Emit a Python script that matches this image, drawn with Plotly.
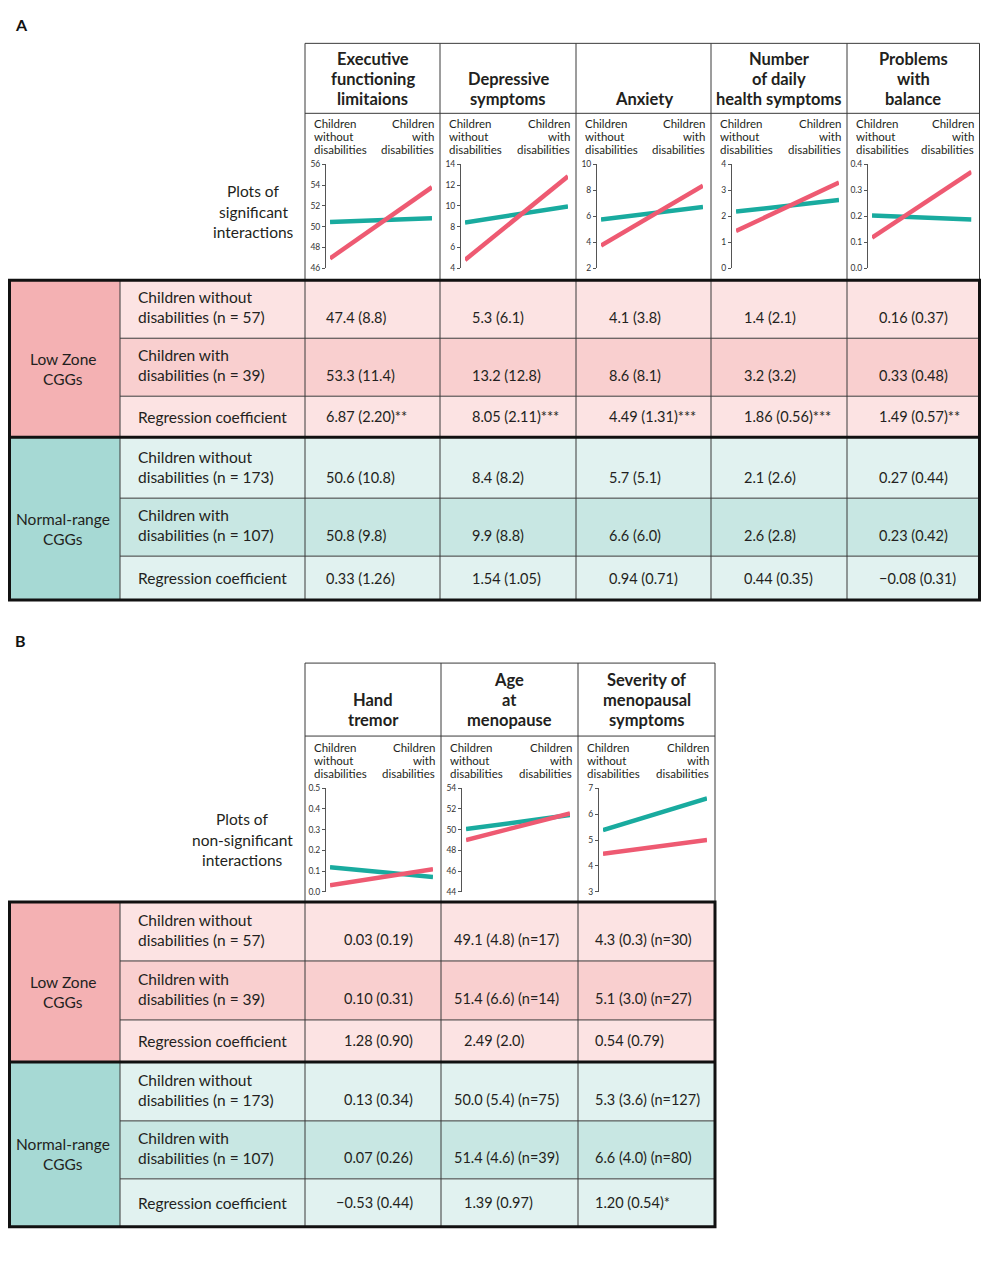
import plotly.graph_objects as go

# page body adds an 8px margin on every side; keep the figure inside the window
OFF = 8
W, H = 989 - 2 * OFF, 1278 - 2 * OFF
# small vertical correction measured between intended and photographed positions
SY, DY = 0.9925, 4.7
FONT = "Lato"
INK = "#231f20"
PINK_LINE = "#ee5a72"
TEAL_LINE = "#19ab9f"

# ---------------- data: panel A (significant interactions) ----------------
a_titles = [["Executive", "functioning", "limitaions"], ["Depressive", "symptoms"], ["Anxiety"],
            ["Number", "of daily", "health symptoms"], ["Problems", "with", "balance"]]
a_low_line = [[46.95, 53.8], [4.8, 12.85], [3.75, 8.35], [1.43, 3.3], [0.118, 0.371]]
a_norm_line = [[50.45, 50.8], [8.4, 9.95], [5.75, 6.72], [2.18, 2.63], [0.203, 0.188]]
a_ticks = [[46, 48, 50, 52, 54, 56], [4, 6, 8, 10, 12, 14], [2, 4, 6, 8, 10],
           [0, 1, 2, 3, 4], [0.0, 0.1, 0.2, 0.3, 0.4]]
a_ticktext = [["46", "48", "50", "52", "54", "56"], ["4", "6", "8", "10", "12", "14"],
              ["2", "4", "6", "8", "10"], ["0", "1", "2", "3", "4"],
              ["0.0", "0.1", "0.2", "0.3", "0.4"]]
a_low_without = ["47.4 (8.8)", "5.3 (6.1)", "4.1 (3.8)", "1.4 (2.1)", "0.16 (0.37)"]
a_low_with = ["53.3 (11.4)", "13.2 (12.8)", "8.6 (8.1)", "3.2 (3.2)", "0.33 (0.48)"]
a_low_coef = ["6.87 (2.20)**", "8.05 (2.11)***", "4.49 (1.31)***", "1.86 (0.56)***", "1.49 (0.57)**"]
a_norm_without = ["50.6 (10.8)", "8.4 (8.2)", "5.7 (5.1)", "2.1 (2.6)", "0.27 (0.44)"]
a_norm_with = ["50.8 (9.8)", "9.9 (8.8)", "6.6 (6.0)", "2.6 (2.8)", "0.23 (0.42)"]
a_norm_coef = ["0.33 (1.26)", "1.54 (1.05)", "0.94 (0.71)", "0.44 (0.35)", "\u22120.08 (0.31)"]

# ---------------- data: panel B (non-significant interactions) ----------------
b_titles = [["Hand", "tremor"], ["Age", "at", "menopause"], ["Severity of", "menopausal", "symptoms"]]
b_low_line = [[0.032, 0.11], [49.0, 51.55], [4.47, 5.0]]
b_norm_line = [[0.119, 0.072], [50.05, 51.4], [5.38, 6.6]]
b_ticks = [[0.0, 0.1, 0.2, 0.3, 0.4, 0.5], [44, 46, 48, 50, 52, 54], [3, 4, 5, 6, 7]]
b_ticktext = [["0.0", "0.1", "0.2", "0.3", "0.4", "0.5"], ["44", "46", "48", "50", "52", "54"],
              ["3", "4", "5", "6", "7"]]
b_low_without = ["0.03 (0.19)", "49.1 (4.8) (n=17)", "4.3 (0.3) (n=30)"]
b_low_with = ["0.10 (0.31)", "51.4 (6.6) (n=14)", "5.1 (3.0) (n=27)"]
b_low_coef = ["1.28 (0.90)", "2.49 (2.0)", "0.54 (0.79)"]
b_norm_without = ["0.13 (0.34)", "50.0 (5.4) (n=75)", "5.3 (3.6) (n=127)"]
b_norm_with = ["0.07 (0.26)", "51.4 (4.6) (n=39)", "6.6 (4.0) (n=80)"]
b_norm_coef = ["\u22120.53 (0.44)", "1.39 (0.97)", "1.20 (0.54)*"]

groups = [["Low Zone", "CGGs"], ["Normal-range", "CGGs"]]
row_labels = [
    [["Children without", "disabilities (n = 57)"], ["Children with", "disabilities (n = 39)"],
     ["Regression coefficient"]],
    [["Children without", "disabilities (n = 173)"], ["Children with", "disabilities (n = 107)"],
     ["Regression coefficient"]],
]
x_cats = [0, 1]


def X(p):
    return (p - OFF) / W


def Y(p):
    return 1 - ((p - DY) / SY - OFF) / H


shapes, annotations = [], []


def rect(x0, y0, x1, y1, fill, lw=0, lc="#333"):
    shapes.append(dict(type="rect", xref="paper", yref="paper", x0=X(x0), x1=X(x1),
                       y0=Y(y1), y1=Y(y0), fillcolor=fill, line=dict(width=lw, color=lc)))


def hline(x0, x1, y, lw=1, lc="#3a3a3a"):
    shapes.append(dict(type="line", xref="paper", yref="paper", x0=X(x0), x1=X(x1),
                       y0=Y(y), y1=Y(y), line=dict(width=lw, color=lc)))


def vline(x, y0, y1, lw=1, lc="#3a3a3a"):
    shapes.append(dict(type="line", xref="paper", yref="paper", x0=X(x), x1=X(x),
                       y0=Y(y0), y1=Y(y1), line=dict(width=lw, color=lc)))


def text(x, y, s, size=15, anchor="left", bold=False, color=INK, vanchor="middle"):
    annotations.append(dict(xref="paper", yref="paper", x=X(x), y=min(Y(y), 1),
                            text=f"<b>{s}</b>" if bold else s, showarrow=False,
                            xanchor=anchor, yanchor=vanchor,
                            font=dict(size=size, color=color, family=FONT)))


def lines(x, y_first, items, step, **kw):
    for i, s in enumerate(items):
        text(x, y_first + i * step, s, **kw)


fig = go.Figure()
ax_n = [0]


def panel(letter, letter_y, cols, box_top, head_bot, title_y, sub_y, axis_top, axis_bot,
          side_label, side_x, side_y, rows, titles, low_line, norm_line, ticks, ticktext,
          table, val_x, val_anchor, coef_x, letter_anchor="middle"):
    text(13, letter_y, letter, size=16, bold=True, color="#111", vanchor=letter_anchor)
    left = OFF + 1.5
    right = min(cols[-1], OFF + W - 1.5)
    edges = cols[:-1] + [right]
    # header box
    hline(cols[0], right, box_top)
    hline(cols[0], right, head_bot)
    for c in edges:
        vline(c, box_top, rows[0])
    lines(side_x, side_y, side_label, 20.5, size=15.5, anchor="center")
    for j, t in enumerate(titles):
        n = len(t)
        lines((edges[j] + edges[j + 1]) / 2, title_y - 20 * (n - 1), t, 20, size=16.5,
              anchor="center", bold=True)
        lines(edges[j] + 7, sub_y, ["Children", "without", "disabilities"], 13, size=11.5)
        lines(edges[j + 1] - 4, sub_y, ["Children", "with", "disabilities"], 13, size=11.5,
              anchor="right")
        # mini interaction plot
        ax_n[0] += 1
        k = ax_n[0]
        xa, ya = f"x{k}", f"y{k}"
        fig.add_trace(go.Scatter(x=x_cats, y=norm_line[j], mode="lines", xaxis=xa, yaxis=ya,
                                 line=dict(color=TEAL_LINE, width=4.5), showlegend=False,
                                 hoverinfo="skip"))
        fig.add_trace(go.Scatter(x=x_cats, y=low_line[j], mode="lines", xaxis=xa, yaxis=ya,
                                 line=dict(color=PINK_LINE, width=4.5), showlegend=False,
                                 hoverinfo="skip"))
        x0 = edges[j] + 25
        x1 = edges[j + 1] - 8
        fig.layout[f"xaxis{k}"] = dict(domain=[X(x0), X(x1)], range=[0, 1], visible=False,
                                       anchor=ya, fixedrange=True)
        fig.layout[f"yaxis{k}"] = dict(domain=[Y(axis_bot), Y(axis_top)],
                                       range=[ticks[j][0], ticks[j][-1]], anchor="free",
                                       position=X(edges[j] + 20), showgrid=False,
                                       zeroline=False, showline=True, linecolor="#555",
                                       linewidth=1, ticks="outside", ticklen=3,
                                       tickcolor="#555", tickvals=ticks[j],
                                       ticktext=ticktext[j],
                                       tickfont=dict(size=8.5, color="#333", family=FONT),
                                       fixedrange=True)
    # table
    fills = [["#f4b1b3", "#fce3e3", "#f9cfcf", "#fce3e3"],
             ["#a6d9d4", "#e1f2f0", "#c8e7e3", "#e1f2f0"]]
    for g in range(2):
        r = rows[g * 3:g * 3 + 4]
        rect(left, r[0], 120, r[3], fills[g][0])
        for i in range(3):
            rect(120, r[i], right, r[i + 1], fills[g][i + 1])
        lines(62.5, (r[0] + r[3]) / 2, groups[g], 20, size=15.5, anchor="center")
        for i in range(3):
            lab = row_labels[g][i]
            vals = table[g * 3 + i]
            if len(lab) == 2:
                ly = r[i + 1] - 21
                lines(136, ly - 20, lab, 20, size=15.5)
            else:
                ly = (r[i] + r[i + 1]) / 2
                text(136, ly, lab[0], size=15.5)
            for j, v in enumerate(vals):
                vx = coef_x[j] if i == 2 else val_x[j]
                text(vx, ly, v, size=14.5, anchor=val_anchor[j])
    for y in rows[1:-1]:
        hline(120, right, y)
    for c in [120] + cols[:-1]:
        vline(c, rows[0], rows[-1])
    hline(left, right, rows[3], lw=3, lc="#111")
    rect(left, rows[0], right, rows[-1], "rgba(0,0,0,0)", lw=3, lc="#111")


panel("A", 0, [305, 440, 576, 711, 847, 985], 43, 113, 99, 123, 164, 268,
      ["Plots of", "significant", "interactions"], 253, 191,
      [280, 338, 396, 437, 498, 556, 600], a_titles, a_low_line, a_norm_line, a_ticks,
      a_ticktext,
      [a_low_without, a_low_with, a_low_coef, a_norm_without, a_norm_with, a_norm_coef],
      [324, 470, 607, 742, 877], ["left"] * 5, [324, 470, 607, 742, 877],
      letter_anchor="top")

panel("B", 640, [305, 441, 578, 715], 663, 736, 720, 747, 788, 892,
      ["Plots of", "non-significant", "interactions"], 242, 819,
      [902, 961, 1020, 1062, 1121, 1179, 1227], b_titles, b_low_line, b_norm_line, b_ticks,
      b_ticktext,
      [b_low_without, b_low_with, b_low_coef, b_norm_without, b_norm_with, b_norm_coef],
      [415, 452, 593], ["right", "left", "left"], [415, 462, 593])

fig.update_layout(width=W, height=H, margin=dict(l=0, r=0, t=0, b=0),
                  paper_bgcolor="white", plot_bgcolor="rgba(0,0,0,0)",
                  shapes=shapes, annotations=annotations, showlegend=False)
fig.write_html("out.html")
